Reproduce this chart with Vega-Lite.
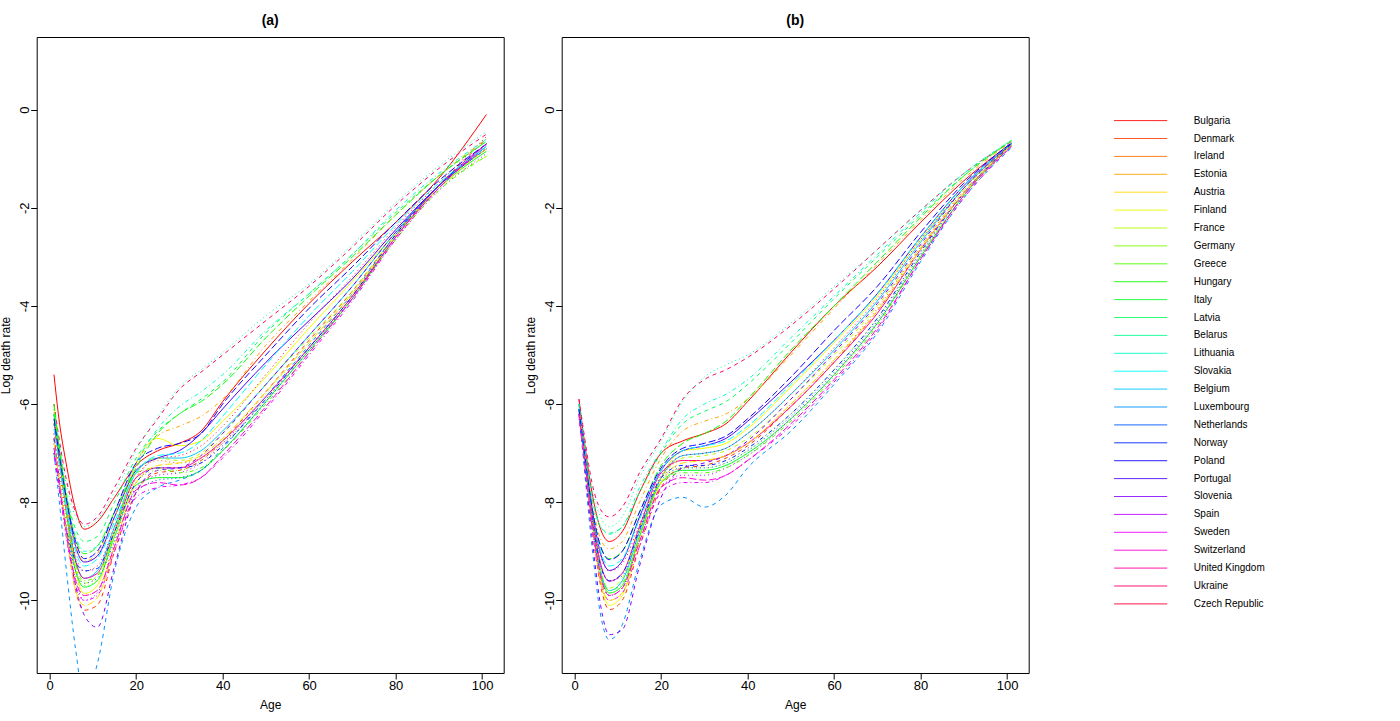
{
"$schema": "https://vega.github.io/schema/vega-lite/v6.json",
"background": "white",
"padding": {"left": -1.3, "top": 13, "right": 0, "bottom": 0},
"config": {
  "font": "Liberation Sans",
  "view": {"stroke": "#000000", "strokeWidth": 1},
  "axis": {"grid": false, "domain": false, "tickColor": "#000000", "tickSize": 6, "labelColor": "#000000", "labelFontSize": 13, "titleColor": "#000000", "titleFontSize": 12, "titleFontWeight": "normal", "labelFlush": false, "labelOverlap": false},
  "legend": {"orient": "none", "legendX": 1077, "legendY": 75.6, "title": null, "symbolType": "stroke", "symbolSize": 2809, "symbolStrokeWidth": 1, "symbolOpacity": 1, "symbolDash": [1, 0], "clipHeight": 16, "rowPadding": 1.9, "labelFontSize": 10, "labelOffset": 26, "labelColor": "#000000", "labelBaseline": "middle", "labelLimit": 200, "padding": 0}
},
"datasets": {
"a": [
{"c":"Bulgaria","x":1,"y":-5.4},{"c":"Bulgaria","x":2,"y":-6.2},{"c":"Bulgaria","x":4,"y":-7.3},{"c":"Bulgaria","x":6,"y":-8.15},{"c":"Bulgaria","x":8,"y":-8.55},{"c":"Bulgaria","x":11,"y":-8.4},{"c":"Bulgaria","x":15,"y":-7.9},{"c":"Bulgaria","x":20,"y":-7.25},{"c":"Bulgaria","x":25,"y":-6.95},{"c":"Bulgaria","x":30,"y":-6.8},{"c":"Bulgaria","x":35,"y":-6.55},{"c":"Bulgaria","x":40,"y":-5.95},{"c":"Bulgaria","x":50,"y":-4.9},{"c":"Bulgaria","x":60,"y":-3.95},{"c":"Bulgaria","x":70,"y":-3.1},{"c":"Bulgaria","x":80,"y":-2.3},{"c":"Bulgaria","x":90,"y":-1.4},{"c":"Bulgaria","x":101,"y":-0.1},
{"c":"Denmark","x":1,"y":-6.7},{"c":"Denmark","x":2,"y":-7.4},{"c":"Denmark","x":4,"y":-8.7},{"c":"Denmark","x":6,"y":-9.8},{"c":"Denmark","x":8,"y":-10.2},{"c":"Denmark","x":11,"y":-10.1},{"c":"Denmark","x":15,"y":-9.0},{"c":"Denmark","x":20,"y":-7.8},{"c":"Denmark","x":25,"y":-7.4},{"c":"Denmark","x":30,"y":-7.35},{"c":"Denmark","x":35,"y":-7.15},{"c":"Denmark","x":40,"y":-6.75},{"c":"Denmark","x":50,"y":-5.75},{"c":"Denmark","x":60,"y":-4.7},{"c":"Denmark","x":70,"y":-3.7},{"c":"Denmark","x":80,"y":-2.55},{"c":"Denmark","x":90,"y":-1.55},{"c":"Denmark","x":101,"y":-0.6},
{"c":"Ireland","x":1,"y":-6.6},{"c":"Ireland","x":2,"y":-7.3},{"c":"Ireland","x":4,"y":-8.5},{"c":"Ireland","x":6,"y":-9.5},{"c":"Ireland","x":8,"y":-9.9},{"c":"Ireland","x":11,"y":-9.8},{"c":"Ireland","x":15,"y":-8.8},{"c":"Ireland","x":20,"y":-7.5},{"c":"Ireland","x":25,"y":-7.15},{"c":"Ireland","x":30,"y":-7.2},{"c":"Ireland","x":35,"y":-7.1},{"c":"Ireland","x":40,"y":-6.8},{"c":"Ireland","x":50,"y":-5.9},{"c":"Ireland","x":60,"y":-4.85},{"c":"Ireland","x":70,"y":-3.8},{"c":"Ireland","x":80,"y":-2.6},{"c":"Ireland","x":90,"y":-1.6},{"c":"Ireland","x":101,"y":-0.7},
{"c":"Estonia","x":1,"y":-6.4},{"c":"Estonia","x":2,"y":-7.0},{"c":"Estonia","x":4,"y":-8.1},{"c":"Estonia","x":6,"y":-8.9},{"c":"Estonia","x":8,"y":-9.2},{"c":"Estonia","x":11,"y":-9.05},{"c":"Estonia","x":15,"y":-8.3},{"c":"Estonia","x":20,"y":-7.2},{"c":"Estonia","x":25,"y":-6.65},{"c":"Estonia","x":30,"y":-6.45},{"c":"Estonia","x":35,"y":-6.25},{"c":"Estonia","x":40,"y":-5.9},{"c":"Estonia","x":50,"y":-4.8},{"c":"Estonia","x":60,"y":-3.9},{"c":"Estonia","x":70,"y":-3.05},{"c":"Estonia","x":80,"y":-2.15},{"c":"Estonia","x":90,"y":-1.35},{"c":"Estonia","x":101,"y":-0.6},
{"c":"Austria","x":1,"y":-6.8},{"c":"Austria","x":2,"y":-7.4},{"c":"Austria","x":4,"y":-8.7},{"c":"Austria","x":6,"y":-9.8},{"c":"Austria","x":8,"y":-10.1},{"c":"Austria","x":11,"y":-9.95},{"c":"Austria","x":15,"y":-8.9},{"c":"Austria","x":20,"y":-7.6},{"c":"Austria","x":25,"y":-7.25},{"c":"Austria","x":30,"y":-7.2},{"c":"Austria","x":35,"y":-7.05},{"c":"Austria","x":40,"y":-6.7},{"c":"Austria","x":50,"y":-5.75},{"c":"Austria","x":60,"y":-4.75},{"c":"Austria","x":70,"y":-3.75},{"c":"Austria","x":80,"y":-2.6},{"c":"Austria","x":90,"y":-1.6},{"c":"Austria","x":101,"y":-0.8},
{"c":"Finland","x":1,"y":-6.1},{"c":"Finland","x":2,"y":-6.9},{"c":"Finland","x":4,"y":-8.3},{"c":"Finland","x":6,"y":-9.4},{"c":"Finland","x":8,"y":-9.86},{"c":"Finland","x":11,"y":-9.7},{"c":"Finland","x":15,"y":-8.6},{"c":"Finland","x":20,"y":-7.2},{"c":"Finland","x":25,"y":-6.7},{"c":"Finland","x":30,"y":-6.85},{"c":"Finland","x":35,"y":-6.75},{"c":"Finland","x":40,"y":-6.35},{"c":"Finland","x":50,"y":-5.45},{"c":"Finland","x":60,"y":-4.45},{"c":"Finland","x":70,"y":-3.5},{"c":"Finland","x":80,"y":-2.5},{"c":"Finland","x":90,"y":-1.55},{"c":"Finland","x":101,"y":-0.8},
{"c":"France","x":1,"y":-6.0},{"c":"France","x":2,"y":-6.8},{"c":"France","x":4,"y":-8.2},{"c":"France","x":6,"y":-9.3},{"c":"France","x":8,"y":-9.65},{"c":"France","x":11,"y":-9.5},{"c":"France","x":15,"y":-8.6},{"c":"France","x":20,"y":-7.4},{"c":"France","x":25,"y":-7.1},{"c":"France","x":30,"y":-7.15},{"c":"France","x":35,"y":-7.0},{"c":"France","x":40,"y":-6.6},{"c":"France","x":50,"y":-5.6},{"c":"France","x":60,"y":-4.65},{"c":"France","x":70,"y":-3.7},{"c":"France","x":80,"y":-2.55},{"c":"France","x":90,"y":-1.6},{"c":"France","x":101,"y":-0.95},
{"c":"Germany","x":1,"y":-6.2},{"c":"Germany","x":2,"y":-6.9},{"c":"Germany","x":4,"y":-8.3},{"c":"Germany","x":6,"y":-9.35},{"c":"Germany","x":8,"y":-9.7},{"c":"Germany","x":11,"y":-9.6},{"c":"Germany","x":15,"y":-8.7},{"c":"Germany","x":20,"y":-7.6},{"c":"Germany","x":25,"y":-7.35},{"c":"Germany","x":30,"y":-7.35},{"c":"Germany","x":35,"y":-7.15},{"c":"Germany","x":40,"y":-6.75},{"c":"Germany","x":50,"y":-5.8},{"c":"Germany","x":60,"y":-4.75},{"c":"Germany","x":70,"y":-3.75},{"c":"Germany","x":80,"y":-2.6},{"c":"Germany","x":90,"y":-1.6},{"c":"Germany","x":101,"y":-0.85},
{"c":"Greece","x":1,"y":-6.1},{"c":"Greece","x":2,"y":-6.8},{"c":"Greece","x":4,"y":-8.2},{"c":"Greece","x":6,"y":-9.25},{"c":"Greece","x":8,"y":-9.6},{"c":"Greece","x":11,"y":-9.5},{"c":"Greece","x":15,"y":-8.6},{"c":"Greece","x":20,"y":-7.4},{"c":"Greece","x":25,"y":-7.3},{"c":"Greece","x":30,"y":-7.4},{"c":"Greece","x":35,"y":-7.3},{"c":"Greece","x":40,"y":-6.95},{"c":"Greece","x":50,"y":-6.0},{"c":"Greece","x":60,"y":-4.95},{"c":"Greece","x":70,"y":-3.85},{"c":"Greece","x":80,"y":-2.65},{"c":"Greece","x":90,"y":-1.65},{"c":"Greece","x":101,"y":-0.95},
{"c":"Hungary","x":1,"y":-6.0},{"c":"Hungary","x":2,"y":-6.7},{"c":"Hungary","x":4,"y":-7.9},{"c":"Hungary","x":6,"y":-8.75},{"c":"Hungary","x":8,"y":-9.05},{"c":"Hungary","x":11,"y":-8.9},{"c":"Hungary","x":15,"y":-8.2},{"c":"Hungary","x":20,"y":-7.3},{"c":"Hungary","x":25,"y":-6.6},{"c":"Hungary","x":30,"y":-6.2},{"c":"Hungary","x":35,"y":-5.95},{"c":"Hungary","x":40,"y":-5.6},{"c":"Hungary","x":50,"y":-4.65},{"c":"Hungary","x":60,"y":-3.8},{"c":"Hungary","x":70,"y":-3.0},{"c":"Hungary","x":80,"y":-2.15},{"c":"Hungary","x":90,"y":-1.35},{"c":"Hungary","x":101,"y":-0.65},
{"c":"Italy","x":1,"y":-6.2},{"c":"Italy","x":2,"y":-6.9},{"c":"Italy","x":4,"y":-8.3},{"c":"Italy","x":6,"y":-9.4},{"c":"Italy","x":8,"y":-9.73},{"c":"Italy","x":11,"y":-9.6},{"c":"Italy","x":15,"y":-8.7},{"c":"Italy","x":20,"y":-7.65},{"c":"Italy","x":25,"y":-7.5},{"c":"Italy","x":30,"y":-7.5},{"c":"Italy","x":35,"y":-7.35},{"c":"Italy","x":40,"y":-6.95},{"c":"Italy","x":50,"y":-5.95},{"c":"Italy","x":60,"y":-4.9},{"c":"Italy","x":70,"y":-3.85},{"c":"Italy","x":80,"y":-2.6},{"c":"Italy","x":90,"y":-1.6},{"c":"Italy","x":101,"y":-0.85},
{"c":"Latvia","x":1,"y":-6.2},{"c":"Latvia","x":2,"y":-6.8},{"c":"Latvia","x":4,"y":-7.9},{"c":"Latvia","x":6,"y":-8.55},{"c":"Latvia","x":8,"y":-8.8},{"c":"Latvia","x":11,"y":-8.7},{"c":"Latvia","x":15,"y":-8.0},{"c":"Latvia","x":20,"y":-7.1},{"c":"Latvia","x":25,"y":-6.55},{"c":"Latvia","x":30,"y":-6.2},{"c":"Latvia","x":35,"y":-5.9},{"c":"Latvia","x":40,"y":-5.55},{"c":"Latvia","x":50,"y":-4.55},{"c":"Latvia","x":60,"y":-3.75},{"c":"Latvia","x":70,"y":-2.95},{"c":"Latvia","x":80,"y":-2.1},{"c":"Latvia","x":90,"y":-1.35},{"c":"Latvia","x":101,"y":-0.65},
{"c":"Belarus","x":1,"y":-6.1},{"c":"Belarus","x":2,"y":-6.7},{"c":"Belarus","x":4,"y":-7.7},{"c":"Belarus","x":6,"y":-8.3},{"c":"Belarus","x":8,"y":-8.5},{"c":"Belarus","x":11,"y":-8.35},{"c":"Belarus","x":15,"y":-7.8},{"c":"Belarus","x":20,"y":-6.95},{"c":"Belarus","x":25,"y":-6.25},{"c":"Belarus","x":30,"y":-5.65},{"c":"Belarus","x":35,"y":-5.3},{"c":"Belarus","x":40,"y":-4.95},{"c":"Belarus","x":50,"y":-4.2},{"c":"Belarus","x":60,"y":-3.55},{"c":"Belarus","x":70,"y":-2.75},{"c":"Belarus","x":80,"y":-1.9},{"c":"Belarus","x":90,"y":-1.15},{"c":"Belarus","x":101,"y":-0.45},
{"c":"Lithuania","x":1,"y":-6.3},{"c":"Lithuania","x":2,"y":-6.9},{"c":"Lithuania","x":4,"y":-8.0},{"c":"Lithuania","x":6,"y":-8.7},{"c":"Lithuania","x":8,"y":-9.0},{"c":"Lithuania","x":11,"y":-8.9},{"c":"Lithuania","x":15,"y":-8.2},{"c":"Lithuania","x":20,"y":-7.2},{"c":"Lithuania","x":25,"y":-6.5},{"c":"Lithuania","x":30,"y":-6.05},{"c":"Lithuania","x":35,"y":-5.75},{"c":"Lithuania","x":40,"y":-5.4},{"c":"Lithuania","x":50,"y":-4.5},{"c":"Lithuania","x":60,"y":-3.75},{"c":"Lithuania","x":70,"y":-2.95},{"c":"Lithuania","x":80,"y":-2.05},{"c":"Lithuania","x":90,"y":-1.3},{"c":"Lithuania","x":101,"y":-0.6},
{"c":"Slovakia","x":1,"y":-6.5},{"c":"Slovakia","x":2,"y":-7.1},{"c":"Slovakia","x":4,"y":-8.2},{"c":"Slovakia","x":6,"y":-9.0},{"c":"Slovakia","x":8,"y":-9.3},{"c":"Slovakia","x":11,"y":-9.15},{"c":"Slovakia","x":15,"y":-8.4},{"c":"Slovakia","x":20,"y":-7.4},{"c":"Slovakia","x":25,"y":-7.05},{"c":"Slovakia","x":30,"y":-7.0},{"c":"Slovakia","x":35,"y":-6.75},{"c":"Slovakia","x":40,"y":-6.25},{"c":"Slovakia","x":50,"y":-5.2},{"c":"Slovakia","x":60,"y":-4.2},{"c":"Slovakia","x":70,"y":-3.3},{"c":"Slovakia","x":80,"y":-2.35},{"c":"Slovakia","x":90,"y":-1.5},{"c":"Slovakia","x":101,"y":-0.75},
{"c":"Belgium","x":1,"y":-6.4},{"c":"Belgium","x":2,"y":-7.0},{"c":"Belgium","x":4,"y":-8.2},{"c":"Belgium","x":6,"y":-9.2},{"c":"Belgium","x":8,"y":-9.55},{"c":"Belgium","x":11,"y":-9.4},{"c":"Belgium","x":15,"y":-8.5},{"c":"Belgium","x":20,"y":-7.4},{"c":"Belgium","x":25,"y":-7.1},{"c":"Belgium","x":30,"y":-7.1},{"c":"Belgium","x":35,"y":-6.95},{"c":"Belgium","x":40,"y":-6.55},{"c":"Belgium","x":50,"y":-5.6},{"c":"Belgium","x":60,"y":-4.6},{"c":"Belgium","x":70,"y":-3.6},{"c":"Belgium","x":80,"y":-2.5},{"c":"Belgium","x":90,"y":-1.55},{"c":"Belgium","x":101,"y":-0.75},
{"c":"Luxembourg","x":1,"y":-7.0},{"c":"Luxembourg","x":2,"y":-7.8},{"c":"Luxembourg","x":4,"y":-9.5},{"c":"Luxembourg","x":6,"y":-11.0},{"c":"Luxembourg","x":8,"y":-12.0},{"c":"Luxembourg","x":11,"y":-11.3},{"c":"Luxembourg","x":15,"y":-9.4},{"c":"Luxembourg","x":20,"y":-8.1},{"c":"Luxembourg","x":25,"y":-7.7},{"c":"Luxembourg","x":30,"y":-7.55},{"c":"Luxembourg","x":35,"y":-7.35},{"c":"Luxembourg","x":40,"y":-6.9},{"c":"Luxembourg","x":50,"y":-5.85},{"c":"Luxembourg","x":60,"y":-4.8},{"c":"Luxembourg","x":70,"y":-3.75},{"c":"Luxembourg","x":80,"y":-2.55},{"c":"Luxembourg","x":90,"y":-1.55},{"c":"Luxembourg","x":101,"y":-0.8},
{"c":"Netherlands","x":1,"y":-6.9},{"c":"Netherlands","x":2,"y":-7.5},{"c":"Netherlands","x":4,"y":-8.6},{"c":"Netherlands","x":6,"y":-9.4},{"c":"Netherlands","x":8,"y":-9.65},{"c":"Netherlands","x":11,"y":-9.55},{"c":"Netherlands","x":15,"y":-8.8},{"c":"Netherlands","x":20,"y":-7.8},{"c":"Netherlands","x":25,"y":-7.55},{"c":"Netherlands","x":30,"y":-7.5},{"c":"Netherlands","x":35,"y":-7.35},{"c":"Netherlands","x":40,"y":-6.95},{"c":"Netherlands","x":50,"y":-5.95},{"c":"Netherlands","x":60,"y":-4.9},{"c":"Netherlands","x":70,"y":-3.85},{"c":"Netherlands","x":80,"y":-2.6},{"c":"Netherlands","x":90,"y":-1.6},{"c":"Netherlands","x":101,"y":-0.75},
{"c":"Norway","x":1,"y":-7.0},{"c":"Norway","x":2,"y":-7.6},{"c":"Norway","x":4,"y":-8.6},{"c":"Norway","x":6,"y":-9.2},{"c":"Norway","x":8,"y":-9.4},{"c":"Norway","x":11,"y":-9.35},{"c":"Norway","x":15,"y":-8.6},{"c":"Norway","x":20,"y":-7.6},{"c":"Norway","x":25,"y":-7.3},{"c":"Norway","x":30,"y":-7.3},{"c":"Norway","x":35,"y":-7.2},{"c":"Norway","x":40,"y":-6.85},{"c":"Norway","x":50,"y":-5.9},{"c":"Norway","x":60,"y":-4.85},{"c":"Norway","x":70,"y":-3.8},{"c":"Norway","x":80,"y":-2.55},{"c":"Norway","x":90,"y":-1.55},{"c":"Norway","x":101,"y":-0.7},
{"c":"Poland","x":1,"y":-6.3},{"c":"Poland","x":2,"y":-6.9},{"c":"Poland","x":4,"y":-8.0},{"c":"Poland","x":6,"y":-8.8},{"c":"Poland","x":8,"y":-9.15},{"c":"Poland","x":11,"y":-9.0},{"c":"Poland","x":15,"y":-8.2},{"c":"Poland","x":20,"y":-7.2},{"c":"Poland","x":25,"y":-6.9},{"c":"Poland","x":30,"y":-6.8},{"c":"Poland","x":35,"y":-6.6},{"c":"Poland","x":40,"y":-6.0},{"c":"Poland","x":50,"y":-5.0},{"c":"Poland","x":60,"y":-4.05},{"c":"Poland","x":70,"y":-3.2},{"c":"Poland","x":80,"y":-2.3},{"c":"Poland","x":90,"y":-1.45},{"c":"Poland","x":101,"y":-0.7},
{"c":"Portugal","x":1,"y":-6.2},{"c":"Portugal","x":2,"y":-6.8},{"c":"Portugal","x":4,"y":-8.0},{"c":"Portugal","x":6,"y":-8.9},{"c":"Portugal","x":8,"y":-9.22},{"c":"Portugal","x":11,"y":-9.1},{"c":"Portugal","x":15,"y":-8.3},{"c":"Portugal","x":20,"y":-7.35},{"c":"Portugal","x":25,"y":-7.1},{"c":"Portugal","x":30,"y":-6.95},{"c":"Portugal","x":35,"y":-6.6},{"c":"Portugal","x":40,"y":-6.1},{"c":"Portugal","x":50,"y":-5.15},{"c":"Portugal","x":60,"y":-4.3},{"c":"Portugal","x":70,"y":-3.45},{"c":"Portugal","x":80,"y":-2.45},{"c":"Portugal","x":90,"y":-1.55},{"c":"Portugal","x":101,"y":-0.8},
{"c":"Slovenia","x":1,"y":-6.7},{"c":"Slovenia","x":2,"y":-7.4},{"c":"Slovenia","x":4,"y":-8.7},{"c":"Slovenia","x":6,"y":-9.7},{"c":"Slovenia","x":8,"y":-10.3},{"c":"Slovenia","x":11,"y":-10.55},{"c":"Slovenia","x":15,"y":-9.3},{"c":"Slovenia","x":20,"y":-7.8},{"c":"Slovenia","x":25,"y":-7.35},{"c":"Slovenia","x":30,"y":-7.3},{"c":"Slovenia","x":35,"y":-7.05},{"c":"Slovenia","x":40,"y":-6.6},{"c":"Slovenia","x":50,"y":-5.6},{"c":"Slovenia","x":60,"y":-4.6},{"c":"Slovenia","x":70,"y":-3.6},{"c":"Slovenia","x":80,"y":-2.5},{"c":"Slovenia","x":90,"y":-1.55},{"c":"Slovenia","x":101,"y":-0.75},
{"c":"Spain","x":1,"y":-6.8},{"c":"Spain","x":2,"y":-7.4},{"c":"Spain","x":4,"y":-8.6},{"c":"Spain","x":6,"y":-9.6},{"c":"Spain","x":8,"y":-10.0},{"c":"Spain","x":11,"y":-9.85},{"c":"Spain","x":15,"y":-8.9},{"c":"Spain","x":20,"y":-7.7},{"c":"Spain","x":25,"y":-7.45},{"c":"Spain","x":30,"y":-7.4},{"c":"Spain","x":35,"y":-7.2},{"c":"Spain","x":40,"y":-6.8},{"c":"Spain","x":50,"y":-5.85},{"c":"Spain","x":60,"y":-4.85},{"c":"Spain","x":70,"y":-3.85},{"c":"Spain","x":80,"y":-2.65},{"c":"Spain","x":90,"y":-1.65},{"c":"Spain","x":101,"y":-0.9},
{"c":"Sweden","x":1,"y":-7.0},{"c":"Sweden","x":2,"y":-7.6},{"c":"Sweden","x":4,"y":-8.8},{"c":"Sweden","x":6,"y":-9.7},{"c":"Sweden","x":8,"y":-10.0},{"c":"Sweden","x":11,"y":-9.9},{"c":"Sweden","x":15,"y":-9.0},{"c":"Sweden","x":20,"y":-7.9},{"c":"Sweden","x":25,"y":-7.7},{"c":"Sweden","x":30,"y":-7.65},{"c":"Sweden","x":35,"y":-7.5},{"c":"Sweden","x":40,"y":-7.1},{"c":"Sweden","x":50,"y":-6.1},{"c":"Sweden","x":60,"y":-5.0},{"c":"Sweden","x":70,"y":-3.9},{"c":"Sweden","x":80,"y":-2.65},{"c":"Sweden","x":90,"y":-1.6},{"c":"Sweden","x":101,"y":-0.75},
{"c":"Switzerland","x":1,"y":-6.9},{"c":"Switzerland","x":2,"y":-7.5},{"c":"Switzerland","x":4,"y":-8.7},{"c":"Switzerland","x":6,"y":-9.6},{"c":"Switzerland","x":8,"y":-9.9},{"c":"Switzerland","x":11,"y":-9.8},{"c":"Switzerland","x":15,"y":-8.9},{"c":"Switzerland","x":20,"y":-7.75},{"c":"Switzerland","x":25,"y":-7.6},{"c":"Switzerland","x":30,"y":-7.65},{"c":"Switzerland","x":35,"y":-7.5},{"c":"Switzerland","x":40,"y":-7.05},{"c":"Switzerland","x":50,"y":-6.05},{"c":"Switzerland","x":60,"y":-4.95},{"c":"Switzerland","x":70,"y":-3.85},{"c":"Switzerland","x":80,"y":-2.6},{"c":"Switzerland","x":90,"y":-1.6},{"c":"Switzerland","x":101,"y":-0.7},
{"c":"United Kingdom","x":1,"y":-6.4},{"c":"United Kingdom","x":2,"y":-7.0},{"c":"United Kingdom","x":4,"y":-8.2},{"c":"United Kingdom","x":6,"y":-9.2},{"c":"United Kingdom","x":8,"y":-9.55},{"c":"United Kingdom","x":11,"y":-9.45},{"c":"United Kingdom","x":15,"y":-8.6},{"c":"United Kingdom","x":20,"y":-7.5},{"c":"United Kingdom","x":25,"y":-7.3},{"c":"United Kingdom","x":30,"y":-7.3},{"c":"United Kingdom","x":35,"y":-7.1},{"c":"United Kingdom","x":40,"y":-6.75},{"c":"United Kingdom","x":50,"y":-5.85},{"c":"United Kingdom","x":60,"y":-4.85},{"c":"United Kingdom","x":70,"y":-3.8},{"c":"United Kingdom","x":80,"y":-2.6},{"c":"United Kingdom","x":90,"y":-1.55},{"c":"United Kingdom","x":101,"y":-0.7},
{"c":"Ukraine","x":1,"y":-6.0},{"c":"Ukraine","x":2,"y":-6.6},{"c":"Ukraine","x":4,"y":-7.6},{"c":"Ukraine","x":6,"y":-8.2},{"c":"Ukraine","x":8,"y":-8.45},{"c":"Ukraine","x":11,"y":-8.3},{"c":"Ukraine","x":15,"y":-7.7},{"c":"Ukraine","x":20,"y":-6.9},{"c":"Ukraine","x":25,"y":-6.3},{"c":"Ukraine","x":30,"y":-5.7},{"c":"Ukraine","x":35,"y":-5.35},{"c":"Ukraine","x":40,"y":-5.0},{"c":"Ukraine","x":50,"y":-4.3},{"c":"Ukraine","x":60,"y":-3.6},{"c":"Ukraine","x":70,"y":-2.8},{"c":"Ukraine","x":80,"y":-1.95},{"c":"Ukraine","x":90,"y":-1.2},{"c":"Ukraine","x":101,"y":-0.5},
{"c":"Czech Republic","x":1,"y":-6.6},{"c":"Czech Republic","x":2,"y":-7.2},{"c":"Czech Republic","x":4,"y":-8.3},{"c":"Czech Republic","x":6,"y":-9.1},{"c":"Czech Republic","x":8,"y":-9.4},{"c":"Czech Republic","x":11,"y":-9.3},{"c":"Czech Republic","x":15,"y":-8.5},{"c":"Czech Republic","x":20,"y":-7.5},{"c":"Czech Republic","x":25,"y":-7.1},{"c":"Czech Republic","x":30,"y":-7.05},{"c":"Czech Republic","x":35,"y":-6.85},{"c":"Czech Republic","x":40,"y":-6.45},{"c":"Czech Republic","x":50,"y":-5.4},{"c":"Czech Republic","x":60,"y":-4.35},{"c":"Czech Republic","x":70,"y":-3.4},{"c":"Czech Republic","x":80,"y":-2.4},{"c":"Czech Republic","x":90,"y":-1.5},{"c":"Czech Republic","x":101,"y":-0.55}
],
"b": [
{"c":"Bulgaria","x":1,"y":-5.9},{"c":"Bulgaria","x":2,"y":-6.6},{"c":"Bulgaria","x":4,"y":-7.8},{"c":"Bulgaria","x":6,"y":-8.55},{"c":"Bulgaria","x":8,"y":-8.8},{"c":"Bulgaria","x":11,"y":-8.6},{"c":"Bulgaria","x":15,"y":-7.8},{"c":"Bulgaria","x":20,"y":-7.0},{"c":"Bulgaria","x":25,"y":-6.75},{"c":"Bulgaria","x":30,"y":-6.6},{"c":"Bulgaria","x":35,"y":-6.4},{"c":"Bulgaria","x":40,"y":-5.95},{"c":"Bulgaria","x":50,"y":-4.95},{"c":"Bulgaria","x":60,"y":-4.0},{"c":"Bulgaria","x":70,"y":-3.2},{"c":"Bulgaria","x":80,"y":-2.3},{"c":"Bulgaria","x":90,"y":-1.45},{"c":"Bulgaria","x":101,"y":-0.68},
{"c":"Denmark","x":1,"y":-6.2},{"c":"Denmark","x":2,"y":-7.0},{"c":"Denmark","x":4,"y":-8.5},{"c":"Denmark","x":6,"y":-9.7},{"c":"Denmark","x":8,"y":-10.19},{"c":"Denmark","x":11,"y":-10.0},{"c":"Denmark","x":15,"y":-8.9},{"c":"Denmark","x":20,"y":-7.7},{"c":"Denmark","x":25,"y":-7.3},{"c":"Denmark","x":30,"y":-7.25},{"c":"Denmark","x":35,"y":-7.1},{"c":"Denmark","x":40,"y":-6.85},{"c":"Denmark","x":50,"y":-6.05},{"c":"Denmark","x":60,"y":-5.15},{"c":"Denmark","x":70,"y":-4.1},{"c":"Denmark","x":80,"y":-2.85},{"c":"Denmark","x":90,"y":-1.7},{"c":"Denmark","x":101,"y":-0.72},
{"c":"Ireland","x":1,"y":-6.2},{"c":"Ireland","x":2,"y":-6.9},{"c":"Ireland","x":4,"y":-8.4},{"c":"Ireland","x":6,"y":-9.5},{"c":"Ireland","x":8,"y":-9.9},{"c":"Ireland","x":11,"y":-9.75},{"c":"Ireland","x":15,"y":-8.7},{"c":"Ireland","x":20,"y":-7.5},{"c":"Ireland","x":25,"y":-7.15},{"c":"Ireland","x":30,"y":-7.15},{"c":"Ireland","x":35,"y":-7.05},{"c":"Ireland","x":40,"y":-6.8},{"c":"Ireland","x":50,"y":-6.0},{"c":"Ireland","x":60,"y":-5.1},{"c":"Ireland","x":70,"y":-4.05},{"c":"Ireland","x":80,"y":-2.8},{"c":"Ireland","x":90,"y":-1.65},{"c":"Ireland","x":101,"y":-0.7},
{"c":"Estonia","x":1,"y":-6.1},{"c":"Estonia","x":2,"y":-6.8},{"c":"Estonia","x":4,"y":-8.0},{"c":"Estonia","x":6,"y":-8.75},{"c":"Estonia","x":8,"y":-8.95},{"c":"Estonia","x":11,"y":-8.8},{"c":"Estonia","x":15,"y":-8.0},{"c":"Estonia","x":20,"y":-7.1},{"c":"Estonia","x":25,"y":-6.55},{"c":"Estonia","x":30,"y":-6.35},{"c":"Estonia","x":35,"y":-6.2},{"c":"Estonia","x":40,"y":-5.9},{"c":"Estonia","x":50,"y":-5.0},{"c":"Estonia","x":60,"y":-4.05},{"c":"Estonia","x":70,"y":-3.15},{"c":"Estonia","x":80,"y":-2.25},{"c":"Estonia","x":90,"y":-1.4},{"c":"Estonia","x":101,"y":-0.65},
{"c":"Austria","x":1,"y":-6.2},{"c":"Austria","x":2,"y":-6.9},{"c":"Austria","x":4,"y":-8.4},{"c":"Austria","x":6,"y":-9.6},{"c":"Austria","x":8,"y":-10.0},{"c":"Austria","x":11,"y":-9.85},{"c":"Austria","x":15,"y":-8.8},{"c":"Austria","x":20,"y":-7.6},{"c":"Austria","x":25,"y":-7.2},{"c":"Austria","x":30,"y":-7.15},{"c":"Austria","x":35,"y":-7.05},{"c":"Austria","x":40,"y":-6.8},{"c":"Austria","x":50,"y":-6.0},{"c":"Austria","x":60,"y":-5.1},{"c":"Austria","x":70,"y":-4.1},{"c":"Austria","x":80,"y":-2.85},{"c":"Austria","x":90,"y":-1.7},{"c":"Austria","x":101,"y":-0.72},
{"c":"Finland","x":1,"y":-6.1},{"c":"Finland","x":2,"y":-6.9},{"c":"Finland","x":4,"y":-8.4},{"c":"Finland","x":6,"y":-9.6},{"c":"Finland","x":8,"y":-10.1},{"c":"Finland","x":11,"y":-9.9},{"c":"Finland","x":15,"y":-8.7},{"c":"Finland","x":20,"y":-7.5},{"c":"Finland","x":25,"y":-6.95},{"c":"Finland","x":30,"y":-6.9},{"c":"Finland","x":35,"y":-6.8},{"c":"Finland","x":40,"y":-6.5},{"c":"Finland","x":50,"y":-5.65},{"c":"Finland","x":60,"y":-4.75},{"c":"Finland","x":70,"y":-3.8},{"c":"Finland","x":80,"y":-2.65},{"c":"Finland","x":90,"y":-1.6},{"c":"Finland","x":101,"y":-0.7},
{"c":"France","x":1,"y":-6.1},{"c":"France","x":2,"y":-6.8},{"c":"France","x":4,"y":-8.3},{"c":"France","x":6,"y":-9.4},{"c":"France","x":8,"y":-9.75},{"c":"France","x":11,"y":-9.55},{"c":"France","x":15,"y":-8.55},{"c":"France","x":20,"y":-7.5},{"c":"France","x":25,"y":-7.1},{"c":"France","x":30,"y":-7.05},{"c":"France","x":35,"y":-6.95},{"c":"France","x":40,"y":-6.7},{"c":"France","x":50,"y":-5.9},{"c":"France","x":60,"y":-5.0},{"c":"France","x":70,"y":-4.0},{"c":"France","x":80,"y":-2.8},{"c":"France","x":90,"y":-1.65},{"c":"France","x":101,"y":-0.7},
{"c":"Germany","x":1,"y":-6.2},{"c":"Germany","x":2,"y":-6.9},{"c":"Germany","x":4,"y":-8.4},{"c":"Germany","x":6,"y":-9.5},{"c":"Germany","x":8,"y":-9.85},{"c":"Germany","x":11,"y":-9.7},{"c":"Germany","x":15,"y":-8.7},{"c":"Germany","x":20,"y":-7.6},{"c":"Germany","x":25,"y":-7.3},{"c":"Germany","x":30,"y":-7.3},{"c":"Germany","x":35,"y":-7.2},{"c":"Germany","x":40,"y":-6.95},{"c":"Germany","x":50,"y":-6.2},{"c":"Germany","x":60,"y":-5.3},{"c":"Germany","x":70,"y":-4.25},{"c":"Germany","x":80,"y":-2.95},{"c":"Germany","x":90,"y":-1.75},{"c":"Germany","x":101,"y":-0.72},
{"c":"Greece","x":1,"y":-6.1},{"c":"Greece","x":2,"y":-6.8},{"c":"Greece","x":4,"y":-8.3},{"c":"Greece","x":6,"y":-9.4},{"c":"Greece","x":8,"y":-9.8},{"c":"Greece","x":11,"y":-9.65},{"c":"Greece","x":15,"y":-8.7},{"c":"Greece","x":20,"y":-7.6},{"c":"Greece","x":25,"y":-7.4},{"c":"Greece","x":30,"y":-7.4},{"c":"Greece","x":35,"y":-7.3},{"c":"Greece","x":40,"y":-7.05},{"c":"Greece","x":50,"y":-6.35},{"c":"Greece","x":60,"y":-5.45},{"c":"Greece","x":70,"y":-4.4},{"c":"Greece","x":80,"y":-3.0},{"c":"Greece","x":90,"y":-1.75},{"c":"Greece","x":101,"y":-0.72},
{"c":"Hungary","x":1,"y":-6.1},{"c":"Hungary","x":2,"y":-6.8},{"c":"Hungary","x":4,"y":-8.1},{"c":"Hungary","x":6,"y":-8.9},{"c":"Hungary","x":8,"y":-9.15},{"c":"Hungary","x":11,"y":-9.0},{"c":"Hungary","x":15,"y":-8.2},{"c":"Hungary","x":20,"y":-7.25},{"c":"Hungary","x":25,"y":-6.8},{"c":"Hungary","x":30,"y":-6.6},{"c":"Hungary","x":35,"y":-6.35},{"c":"Hungary","x":40,"y":-5.9},{"c":"Hungary","x":50,"y":-4.9},{"c":"Hungary","x":60,"y":-4.0},{"c":"Hungary","x":70,"y":-3.1},{"c":"Hungary","x":80,"y":-2.2},{"c":"Hungary","x":90,"y":-1.35},{"c":"Hungary","x":101,"y":-0.64},
{"c":"Italy","x":1,"y":-6.1},{"c":"Italy","x":2,"y":-6.8},{"c":"Italy","x":4,"y":-8.3},{"c":"Italy","x":6,"y":-9.45},{"c":"Italy","x":8,"y":-9.85},{"c":"Italy","x":11,"y":-9.7},{"c":"Italy","x":15,"y":-8.7},{"c":"Italy","x":20,"y":-7.6},{"c":"Italy","x":25,"y":-7.35},{"c":"Italy","x":30,"y":-7.35},{"c":"Italy","x":35,"y":-7.25},{"c":"Italy","x":40,"y":-7.0},{"c":"Italy","x":50,"y":-6.3},{"c":"Italy","x":60,"y":-5.4},{"c":"Italy","x":70,"y":-4.35},{"c":"Italy","x":80,"y":-3.0},{"c":"Italy","x":90,"y":-1.75},{"c":"Italy","x":101,"y":-0.72},
{"c":"Latvia","x":1,"y":-6.0},{"c":"Latvia","x":2,"y":-6.7},{"c":"Latvia","x":4,"y":-7.9},{"c":"Latvia","x":6,"y":-8.5},{"c":"Latvia","x":8,"y":-8.63},{"c":"Latvia","x":11,"y":-8.5},{"c":"Latvia","x":15,"y":-7.8},{"c":"Latvia","x":20,"y":-7.0},{"c":"Latvia","x":25,"y":-6.4},{"c":"Latvia","x":30,"y":-6.15},{"c":"Latvia","x":35,"y":-5.95},{"c":"Latvia","x":40,"y":-5.6},{"c":"Latvia","x":50,"y":-4.75},{"c":"Latvia","x":60,"y":-3.85},{"c":"Latvia","x":70,"y":-3.0},{"c":"Latvia","x":80,"y":-2.15},{"c":"Latvia","x":90,"y":-1.35},{"c":"Latvia","x":101,"y":-0.63},
{"c":"Belarus","x":1,"y":-6.0},{"c":"Belarus","x":2,"y":-6.6},{"c":"Belarus","x":4,"y":-7.7},{"c":"Belarus","x":6,"y":-8.3},{"c":"Belarus","x":8,"y":-8.5},{"c":"Belarus","x":11,"y":-8.3},{"c":"Belarus","x":15,"y":-7.5},{"c":"Belarus","x":20,"y":-6.75},{"c":"Belarus","x":25,"y":-5.95},{"c":"Belarus","x":30,"y":-5.45},{"c":"Belarus","x":35,"y":-5.2},{"c":"Belarus","x":40,"y":-5.0},{"c":"Belarus","x":50,"y":-4.35},{"c":"Belarus","x":60,"y":-3.6},{"c":"Belarus","x":70,"y":-2.85},{"c":"Belarus","x":80,"y":-2.05},{"c":"Belarus","x":90,"y":-1.3},{"c":"Belarus","x":101,"y":-0.62},
{"c":"Lithuania","x":1,"y":-6.0},{"c":"Lithuania","x":2,"y":-6.7},{"c":"Lithuania","x":4,"y":-7.9},{"c":"Lithuania","x":6,"y":-8.5},{"c":"Lithuania","x":8,"y":-8.65},{"c":"Lithuania","x":11,"y":-8.5},{"c":"Lithuania","x":15,"y":-7.7},{"c":"Lithuania","x":20,"y":-6.95},{"c":"Lithuania","x":25,"y":-6.3},{"c":"Lithuania","x":30,"y":-6.0},{"c":"Lithuania","x":35,"y":-5.8},{"c":"Lithuania","x":40,"y":-5.5},{"c":"Lithuania","x":50,"y":-4.65},{"c":"Lithuania","x":60,"y":-3.8},{"c":"Lithuania","x":70,"y":-2.95},{"c":"Lithuania","x":80,"y":-2.1},{"c":"Lithuania","x":90,"y":-1.3},{"c":"Lithuania","x":101,"y":-0.63},
{"c":"Slovakia","x":1,"y":-6.1},{"c":"Slovakia","x":2,"y":-6.8},{"c":"Slovakia","x":4,"y":-8.1},{"c":"Slovakia","x":6,"y":-9.0},{"c":"Slovakia","x":8,"y":-9.3},{"c":"Slovakia","x":11,"y":-9.15},{"c":"Slovakia","x":15,"y":-8.35},{"c":"Slovakia","x":20,"y":-7.35},{"c":"Slovakia","x":25,"y":-6.95},{"c":"Slovakia","x":30,"y":-6.85},{"c":"Slovakia","x":35,"y":-6.75},{"c":"Slovakia","x":40,"y":-6.45},{"c":"Slovakia","x":50,"y":-5.6},{"c":"Slovakia","x":60,"y":-4.7},{"c":"Slovakia","x":70,"y":-3.75},{"c":"Slovakia","x":80,"y":-2.6},{"c":"Slovakia","x":90,"y":-1.55},{"c":"Slovakia","x":101,"y":-0.68},
{"c":"Belgium","x":1,"y":-6.1},{"c":"Belgium","x":2,"y":-6.8},{"c":"Belgium","x":4,"y":-8.3},{"c":"Belgium","x":6,"y":-9.4},{"c":"Belgium","x":8,"y":-9.8},{"c":"Belgium","x":11,"y":-9.6},{"c":"Belgium","x":15,"y":-8.6},{"c":"Belgium","x":20,"y":-7.5},{"c":"Belgium","x":25,"y":-7.05},{"c":"Belgium","x":30,"y":-7.0},{"c":"Belgium","x":35,"y":-6.9},{"c":"Belgium","x":40,"y":-6.6},{"c":"Belgium","x":50,"y":-5.8},{"c":"Belgium","x":60,"y":-4.9},{"c":"Belgium","x":70,"y":-3.9},{"c":"Belgium","x":80,"y":-2.7},{"c":"Belgium","x":90,"y":-1.6},{"c":"Belgium","x":101,"y":-0.7},
{"c":"Luxembourg","x":1,"y":-6.2},{"c":"Luxembourg","x":2,"y":-7.1},{"c":"Luxembourg","x":4,"y":-8.9},{"c":"Luxembourg","x":6,"y":-10.3},{"c":"Luxembourg","x":8,"y":-10.8},{"c":"Luxembourg","x":11,"y":-10.5},{"c":"Luxembourg","x":15,"y":-9.2},{"c":"Luxembourg","x":20,"y":-8.05},{"c":"Luxembourg","x":25,"y":-7.9},{"c":"Luxembourg","x":30,"y":-8.1},{"c":"Luxembourg","x":35,"y":-7.85},{"c":"Luxembourg","x":40,"y":-7.3},{"c":"Luxembourg","x":50,"y":-6.55},{"c":"Luxembourg","x":60,"y":-5.6},{"c":"Luxembourg","x":70,"y":-4.55},{"c":"Luxembourg","x":80,"y":-3.1},{"c":"Luxembourg","x":90,"y":-1.8},{"c":"Luxembourg","x":101,"y":-0.78},
{"c":"Netherlands","x":1,"y":-6.2},{"c":"Netherlands","x":2,"y":-6.9},{"c":"Netherlands","x":4,"y":-8.3},{"c":"Netherlands","x":6,"y":-9.3},{"c":"Netherlands","x":8,"y":-9.6},{"c":"Netherlands","x":11,"y":-9.5},{"c":"Netherlands","x":15,"y":-8.6},{"c":"Netherlands","x":20,"y":-7.55},{"c":"Netherlands","x":25,"y":-7.3},{"c":"Netherlands","x":30,"y":-7.3},{"c":"Netherlands","x":35,"y":-7.2},{"c":"Netherlands","x":40,"y":-6.95},{"c":"Netherlands","x":50,"y":-6.25},{"c":"Netherlands","x":60,"y":-5.35},{"c":"Netherlands","x":70,"y":-4.3},{"c":"Netherlands","x":80,"y":-2.95},{"c":"Netherlands","x":90,"y":-1.7},{"c":"Netherlands","x":101,"y":-0.72},
{"c":"Norway","x":1,"y":-6.2},{"c":"Norway","x":2,"y":-6.9},{"c":"Norway","x":4,"y":-8.3},{"c":"Norway","x":6,"y":-9.3},{"c":"Norway","x":8,"y":-9.6},{"c":"Norway","x":11,"y":-9.45},{"c":"Norway","x":15,"y":-8.55},{"c":"Norway","x":20,"y":-7.5},{"c":"Norway","x":25,"y":-7.25},{"c":"Norway","x":30,"y":-7.25},{"c":"Norway","x":35,"y":-7.15},{"c":"Norway","x":40,"y":-6.9},{"c":"Norway","x":50,"y":-6.2},{"c":"Norway","x":60,"y":-5.3},{"c":"Norway","x":70,"y":-4.25},{"c":"Norway","x":80,"y":-2.9},{"c":"Norway","x":90,"y":-1.7},{"c":"Norway","x":101,"y":-0.7},
{"c":"Poland","x":1,"y":-6.1},{"c":"Poland","x":2,"y":-6.8},{"c":"Poland","x":4,"y":-8.1},{"c":"Poland","x":6,"y":-8.9},{"c":"Poland","x":8,"y":-9.17},{"c":"Poland","x":11,"y":-9.0},{"c":"Poland","x":15,"y":-8.2},{"c":"Poland","x":20,"y":-7.3},{"c":"Poland","x":25,"y":-6.9},{"c":"Poland","x":30,"y":-6.8},{"c":"Poland","x":35,"y":-6.65},{"c":"Poland","x":40,"y":-6.3},{"c":"Poland","x":50,"y":-5.45},{"c":"Poland","x":60,"y":-4.5},{"c":"Poland","x":70,"y":-3.6},{"c":"Poland","x":80,"y":-2.5},{"c":"Poland","x":90,"y":-1.5},{"c":"Poland","x":101,"y":-0.68},
{"c":"Portugal","x":1,"y":-6.0},{"c":"Portugal","x":2,"y":-6.7},{"c":"Portugal","x":4,"y":-8.1},{"c":"Portugal","x":6,"y":-9.05},{"c":"Portugal","x":8,"y":-9.39},{"c":"Portugal","x":11,"y":-9.2},{"c":"Portugal","x":15,"y":-8.3},{"c":"Portugal","x":20,"y":-7.35},{"c":"Portugal","x":25,"y":-6.95},{"c":"Portugal","x":30,"y":-6.85},{"c":"Portugal","x":35,"y":-6.7},{"c":"Portugal","x":40,"y":-6.35},{"c":"Portugal","x":50,"y":-5.55},{"c":"Portugal","x":60,"y":-4.7},{"c":"Portugal","x":70,"y":-3.75},{"c":"Portugal","x":80,"y":-2.6},{"c":"Portugal","x":90,"y":-1.55},{"c":"Portugal","x":101,"y":-0.68},
{"c":"Slovenia","x":1,"y":-6.2},{"c":"Slovenia","x":2,"y":-7.0},{"c":"Slovenia","x":4,"y":-8.7},{"c":"Slovenia","x":6,"y":-10.1},{"c":"Slovenia","x":8,"y":-10.7},{"c":"Slovenia","x":11,"y":-10.6},{"c":"Slovenia","x":15,"y":-9.3},{"c":"Slovenia","x":20,"y":-7.9},{"c":"Slovenia","x":25,"y":-7.3},{"c":"Slovenia","x":30,"y":-7.2},{"c":"Slovenia","x":35,"y":-7.05},{"c":"Slovenia","x":40,"y":-6.75},{"c":"Slovenia","x":50,"y":-5.9},{"c":"Slovenia","x":60,"y":-4.95},{"c":"Slovenia","x":70,"y":-3.95},{"c":"Slovenia","x":80,"y":-2.75},{"c":"Slovenia","x":90,"y":-1.6},{"c":"Slovenia","x":101,"y":-0.7},
{"c":"Spain","x":1,"y":-6.2},{"c":"Spain","x":2,"y":-6.9},{"c":"Spain","x":4,"y":-8.4},{"c":"Spain","x":6,"y":-9.5},{"c":"Spain","x":8,"y":-9.9},{"c":"Spain","x":11,"y":-9.75},{"c":"Spain","x":15,"y":-8.8},{"c":"Spain","x":20,"y":-7.7},{"c":"Spain","x":25,"y":-7.45},{"c":"Spain","x":30,"y":-7.45},{"c":"Spain","x":35,"y":-7.3},{"c":"Spain","x":40,"y":-7.05},{"c":"Spain","x":50,"y":-6.3},{"c":"Spain","x":60,"y":-5.4},{"c":"Spain","x":70,"y":-4.35},{"c":"Spain","x":80,"y":-3.0},{"c":"Spain","x":90,"y":-1.75},{"c":"Spain","x":101,"y":-0.75},
{"c":"Sweden","x":1,"y":-6.3},{"c":"Sweden","x":2,"y":-7.0},{"c":"Sweden","x":4,"y":-8.5},{"c":"Sweden","x":6,"y":-9.6},{"c":"Sweden","x":8,"y":-10.0},{"c":"Sweden","x":11,"y":-9.85},{"c":"Sweden","x":15,"y":-8.9},{"c":"Sweden","x":20,"y":-7.8},{"c":"Sweden","x":25,"y":-7.6},{"c":"Sweden","x":30,"y":-7.6},{"c":"Sweden","x":35,"y":-7.45},{"c":"Sweden","x":40,"y":-7.15},{"c":"Sweden","x":50,"y":-6.45},{"c":"Sweden","x":60,"y":-5.55},{"c":"Sweden","x":70,"y":-4.5},{"c":"Sweden","x":80,"y":-3.05},{"c":"Sweden","x":90,"y":-1.8},{"c":"Sweden","x":101,"y":-0.75},
{"c":"Switzerland","x":1,"y":-6.2},{"c":"Switzerland","x":2,"y":-6.9},{"c":"Switzerland","x":4,"y":-8.4},{"c":"Switzerland","x":6,"y":-9.5},{"c":"Switzerland","x":8,"y":-9.9},{"c":"Switzerland","x":11,"y":-9.75},{"c":"Switzerland","x":15,"y":-8.8},{"c":"Switzerland","x":20,"y":-7.7},{"c":"Switzerland","x":25,"y":-7.5},{"c":"Switzerland","x":30,"y":-7.55},{"c":"Switzerland","x":35,"y":-7.45},{"c":"Switzerland","x":40,"y":-7.15},{"c":"Switzerland","x":50,"y":-6.4},{"c":"Switzerland","x":60,"y":-5.5},{"c":"Switzerland","x":70,"y":-4.45},{"c":"Switzerland","x":80,"y":-3.05},{"c":"Switzerland","x":90,"y":-1.75},{"c":"Switzerland","x":101,"y":-0.75},
{"c":"United Kingdom","x":1,"y":-6.1},{"c":"United Kingdom","x":2,"y":-6.8},{"c":"United Kingdom","x":4,"y":-8.2},{"c":"United Kingdom","x":6,"y":-9.25},{"c":"United Kingdom","x":8,"y":-9.61},{"c":"United Kingdom","x":11,"y":-9.45},{"c":"United Kingdom","x":15,"y":-8.5},{"c":"United Kingdom","x":20,"y":-7.4},{"c":"United Kingdom","x":25,"y":-7.15},{"c":"United Kingdom","x":30,"y":-7.15},{"c":"United Kingdom","x":35,"y":-7.05},{"c":"United Kingdom","x":40,"y":-6.8},{"c":"United Kingdom","x":50,"y":-6.05},{"c":"United Kingdom","x":60,"y":-5.15},{"c":"United Kingdom","x":70,"y":-4.15},{"c":"United Kingdom","x":80,"y":-2.85},{"c":"United Kingdom","x":90,"y":-1.7},{"c":"United Kingdom","x":101,"y":-0.72},
{"c":"Ukraine","x":1,"y":-5.9},{"c":"Ukraine","x":2,"y":-6.5},{"c":"Ukraine","x":4,"y":-7.6},{"c":"Ukraine","x":6,"y":-8.15},{"c":"Ukraine","x":8,"y":-8.3},{"c":"Ukraine","x":11,"y":-8.1},{"c":"Ukraine","x":15,"y":-7.4},{"c":"Ukraine","x":20,"y":-6.7},{"c":"Ukraine","x":25,"y":-5.9},{"c":"Ukraine","x":30,"y":-5.5},{"c":"Ukraine","x":35,"y":-5.3},{"c":"Ukraine","x":40,"y":-5.05},{"c":"Ukraine","x":50,"y":-4.4},{"c":"Ukraine","x":60,"y":-3.65},{"c":"Ukraine","x":70,"y":-2.85},{"c":"Ukraine","x":80,"y":-2.05},{"c":"Ukraine","x":90,"y":-1.3},{"c":"Ukraine","x":101,"y":-0.65},
{"c":"Czech Republic","x":1,"y":-6.1},{"c":"Czech Republic","x":2,"y":-6.8},{"c":"Czech Republic","x":4,"y":-8.2},{"c":"Czech Republic","x":6,"y":-9.1},{"c":"Czech Republic","x":8,"y":-9.4},{"c":"Czech Republic","x":11,"y":-9.25},{"c":"Czech Republic","x":15,"y":-8.45},{"c":"Czech Republic","x":20,"y":-7.45},{"c":"Czech Republic","x":25,"y":-7.05},{"c":"Czech Republic","x":30,"y":-7.0},{"c":"Czech Republic","x":35,"y":-6.9},{"c":"Czech Republic","x":40,"y":-6.6},{"c":"Czech Republic","x":50,"y":-5.8},{"c":"Czech Republic","x":60,"y":-4.85},{"c":"Czech Republic","x":70,"y":-3.85},{"c":"Czech Republic","x":80,"y":-2.65},{"c":"Czech Republic","x":90,"y":-1.6},{"c":"Czech Republic","x":101,"y":-0.7}
]
},
"spacing": 58,
"bounds": "flush",
"resolve": {"scale": {"color": "shared"}, "legend": {"color": "shared"}},
"hconcat": [
{
 "title": {"text": "(a)", "fontSize": 14, "fontWeight": "bold", "baseline": "alphabetic", "offset": -1.8, "anchor": "middle", "color": "#000000"},
 "width": 467, "height": 636,
 "data": {"name": "a"},
 "encoding": {
  "x": {"field": "x", "type": "quantitative", "scale": {"domain": [-3, 105], "nice": false, "zero": false},
        "axis": {"values": [0, 20, 40, 60, 80, 100], "title": "Age", "labelBaseline": "top", "labelPadding": 1, "titleBaseline": "alphabetic", "titleY": 36}},
  "y": {"field": "y", "type": "quantitative", "scale": {"domain": [-11.48, 1.48], "nice": false, "zero": false},
        "axis": {"values": [-10, -8, -6, -4, -2, 0], "title": "Log death rate", "labelAngle": -90, "labelAlign": "center", "labelBaseline": "alphabetic", "labelPadding": 1.7, "titleBaseline": "alphabetic", "titleX": -27.5, "labelExpr": "replace(datum.label, '\u2212', '-')"}},
  "color": {"field": "c", "type": "nominal",
   "scale": {"domain": ["Bulgaria","Denmark","Ireland","Estonia","Austria","Finland","France","Germany","Greece","Hungary","Italy","Latvia","Belarus","Lithuania","Slovakia","Belgium","Luxembourg","Netherlands","Norway","Poland","Portugal","Slovenia","Spain","Sweden","Switzerland","United Kingdom","Ukraine","Czech Republic"],
             "range": ["#FF0000","#FF3700","#FF6D00","#FFA400","#FFDB00","#EDFF00","#B6FF00","#80FF00","#49FF00","#12FF00","#00FF24","#00FF5B","#00FF92","#00FFC8","#00FFFF","#00C8FF","#0092FF","#005BFF","#0024FF","#1200FF","#4900FF","#8000FF","#B600FF","#ED00FF","#FF00DB","#FF00A4","#FF006D","#FF0037"]}}
 },
 "layer": [
  {"transform": [{"filter": {"field": "c", "oneOf": ["Bulgaria","Finland","Italy","Belgium","Portugal","United Kingdom"]}}],
   "mark": {"type": "line", "interpolate": "monotone", "strokeWidth": 1, "clip": true}},
  {"transform": [{"filter": {"field": "c", "oneOf": ["Denmark","France","Latvia","Luxembourg","Slovenia","Ukraine"]}}],
   "mark": {"type": "line", "interpolate": "monotone", "strokeWidth": 1, "clip": true, "strokeDash": [4, 4]}},
  {"transform": [{"filter": {"field": "c", "oneOf": ["Ireland","Germany","Belarus","Netherlands","Spain","Czech Republic"]}}],
   "mark": {"type": "line", "interpolate": "monotone", "strokeWidth": 1, "clip": true, "strokeDash": [1, 3]}},
  {"transform": [{"filter": {"field": "c", "oneOf": ["Estonia","Greece","Lithuania","Norway","Sweden"]}}],
   "mark": {"type": "line", "interpolate": "monotone", "strokeWidth": 1, "clip": true, "strokeDash": [1, 3, 4, 3]}},
  {"transform": [{"filter": {"field": "c", "oneOf": ["Austria","Hungary","Slovakia","Poland","Switzerland"]}}],
   "mark": {"type": "line", "interpolate": "monotone", "strokeWidth": 1, "clip": true, "strokeDash": [7, 3]}}
 ]
},
{
 "title": {"text": "(b)", "fontSize": 14, "fontWeight": "bold", "baseline": "alphabetic", "offset": -1.8, "anchor": "middle", "color": "#000000"},
 "width": 467, "height": 636,
 "data": {"name": "b"},
 "encoding": {
  "x": {"field": "x", "type": "quantitative", "scale": {"domain": [-3, 105], "nice": false, "zero": false},
        "axis": {"values": [0, 20, 40, 60, 80, 100], "title": "Age", "labelBaseline": "top", "labelPadding": 1, "titleBaseline": "alphabetic", "titleY": 36}},
  "y": {"field": "y", "type": "quantitative", "scale": {"domain": [-11.48, 1.48], "nice": false, "zero": false},
        "axis": {"values": [-10, -8, -6, -4, -2, 0], "title": "Log death rate", "labelAngle": -90, "labelAlign": "center", "labelBaseline": "alphabetic", "labelPadding": 1.7, "titleBaseline": "alphabetic", "titleX": -27.5, "labelExpr": "replace(datum.label, '\u2212', '-')"}},
  "color": {"field": "c", "type": "nominal",
   "scale": {"domain": ["Bulgaria","Denmark","Ireland","Estonia","Austria","Finland","France","Germany","Greece","Hungary","Italy","Latvia","Belarus","Lithuania","Slovakia","Belgium","Luxembourg","Netherlands","Norway","Poland","Portugal","Slovenia","Spain","Sweden","Switzerland","United Kingdom","Ukraine","Czech Republic"],
             "range": ["#FF0000","#FF3700","#FF6D00","#FFA400","#FFDB00","#EDFF00","#B6FF00","#80FF00","#49FF00","#12FF00","#00FF24","#00FF5B","#00FF92","#00FFC8","#00FFFF","#00C8FF","#0092FF","#005BFF","#0024FF","#1200FF","#4900FF","#8000FF","#B600FF","#ED00FF","#FF00DB","#FF00A4","#FF006D","#FF0037"]}}
 },
 "layer": [
  {"transform": [{"filter": {"field": "c", "oneOf": ["Bulgaria","Finland","Italy","Belgium","Portugal","United Kingdom"]}}],
   "mark": {"type": "line", "interpolate": "monotone", "strokeWidth": 1, "clip": true}},
  {"transform": [{"filter": {"field": "c", "oneOf": ["Denmark","France","Latvia","Luxembourg","Slovenia","Ukraine"]}}],
   "mark": {"type": "line", "interpolate": "monotone", "strokeWidth": 1, "clip": true, "strokeDash": [4, 4]}},
  {"transform": [{"filter": {"field": "c", "oneOf": ["Ireland","Germany","Belarus","Netherlands","Spain","Czech Republic"]}}],
   "mark": {"type": "line", "interpolate": "monotone", "strokeWidth": 1, "clip": true, "strokeDash": [1, 3]}},
  {"transform": [{"filter": {"field": "c", "oneOf": ["Estonia","Greece","Lithuania","Norway","Sweden"]}}],
   "mark": {"type": "line", "interpolate": "monotone", "strokeWidth": 1, "clip": true, "strokeDash": [1, 3, 4, 3]}},
  {"transform": [{"filter": {"field": "c", "oneOf": ["Austria","Hungary","Slovakia","Poland","Switzerland"]}}],
   "mark": {"type": "line", "interpolate": "monotone", "strokeWidth": 1, "clip": true, "strokeDash": [7, 3]}}
 ]
}
]
}
